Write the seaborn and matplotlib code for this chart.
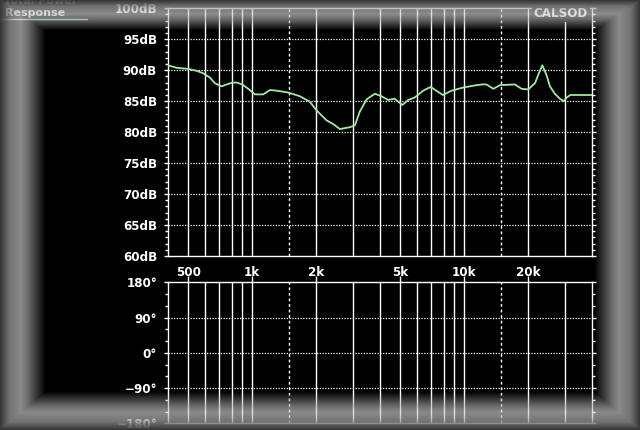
import numpy as np
import matplotlib
matplotlib.use("Agg")
import matplotlib.pyplot as plt
from matplotlib.ticker import FixedLocator, MultipleLocator, NullFormatter, NullLocator
import seaborn as sns

# valores (resposta de potência)
freq_hz = [400, 440, 500, 548, 588, 633, 667, 718, 758, 806, 847, 898, 959, 1030,
           1128, 1213, 1305, 1480, 1680, 1874, 2015, 2246, 2414, 2593, 2890, 3055,
           3218, 3468, 3793, 4077, 4380, 4700, 4980, 5120, 5450, 5850, 6410, 6952,
           7950, 8730, 9900, 11040, 12120, 12760, 13750, 14800, 17380, 18660, 20080,
           21600, 22530, 23400, 24500, 25400, 26800, 28300, 29500, 30300, 31670, 40000]
nivel_db = [90.8, 90.4, 90.2, 89.9, 89.5, 88.8, 87.9, 87.4, 87.7, 88.0, 88.0, 87.7, 87.0, 86.1,
            86.1, 86.8, 86.7, 86.4, 85.8, 84.9, 83.5, 81.9, 81.3, 80.5, 80.8, 81.1,
            83.3, 85.3, 86.2, 85.8, 85.2, 85.4, 84.7, 84.4, 85.2, 85.6, 86.7, 87.3,
            86.0, 86.7, 87.2, 87.5, 87.7, 87.7, 87.0, 87.6, 87.7, 87.0, 86.9,
            87.9, 89.5, 90.8, 89.2, 87.4, 86.2, 85.4, 85.0, 85.5, 86.0, 86.0]

ticks_freq = [500, 1000, 2000, 5000, 10000, 20000]
rotulos_freq = ["500", "1k", "2k", "5k", "10k", "20k"]
grade_solida = [500, 600, 700, 800, 900, 1000, 2000, 3000, 4000, 5000, 6000,
                7000, 8000, 9000, 10000, 20000, 30000]
grade_pontilhada = [1500, 15000]

ticks_db = [60, 65, 70, 75, 80, 85, 90, 95, 100]
rotulos_db = [f"{v}dB" for v in ticks_db]
ticks_fase = [-180, -90, 0, 90, 180]
rotulos_fase = ["\u2212180\u00b0", "\u221290\u00b0", "0\u00b0", "90\u00b0", "180\u00b0"]

sns.set_theme(style="dark", rc={
    "figure.facecolor": "black", "axes.facecolor": "black",
    "axes.edgecolor": "white", "xtick.color": "white", "ytick.color": "white",
    "axes.linewidth": 1.0,
})
plt.rcParams["font.family"] = ["DejaVu Sans"]
plt.rcParams["font.weight"] = "bold"

W, H = 640, 430
TAM = 8.6
fig = plt.figure(figsize=(6.4, 4.3), dpi=100)

def px(x0, y0, x1, y1):
    # converte caixa em pixels (topo-esquerda) para fração da figura
    return [x0 / W, 1 - y1 / H, (x1 - x0) / W, (y1 - y0) / H]

ax_mag = fig.add_axes(px(167.8, 8.3, 591.7, 256))
ax_fase = fig.add_axes(px(167.8, 282.3, 591.7, 423.3))

for ax in (ax_mag, ax_fase):
    ax.set_xscale("log")
    ax.set_xlim(400, 40000)
    ax.grid(False)
    for f in grade_solida:
        ax.axvline(f, color="white", lw=1.0, zorder=1)
    for f in grade_pontilhada:
        ax.axvline(f, color="white", lw=1.0, ls=(0, (2, 2)), zorder=1)
    ax.xaxis.set_minor_locator(NullLocator())
    ax.xaxis.set_minor_formatter(NullFormatter())
    for s in ax.spines.values():
        s.set_color("white")
        s.set_linewidth(1.0)

# painel de magnitude
sns.lineplot(x=freq_hz, y=nivel_db, ax=ax_mag, color="#a6e6a6", lw=1.3,
             estimator=None, sort=False, zorder=3)
ax_mag.set_ylim(60, 100)
ax_mag.yaxis.set_major_locator(FixedLocator(ticks_db))
ax_mag.set_yticklabels(rotulos_db)
ax_mag.yaxis.set_minor_locator(MultipleLocator(1))
for v in ticks_db[1:-1]:
    ax_mag.axhline(v, color="white", lw=0.9, ls=(0, (1, 1.2)), zorder=1)
ax_mag.xaxis.set_major_locator(FixedLocator(ticks_freq))
ax_mag.set_xticklabels(rotulos_freq)
ax_mag.tick_params(axis="x", length=0, pad=7.0, labelsize=TAM)
ax_mag.tick_params(axis="y", which="both", direction="out", left=True, right=True,
                   labelsize=TAM, pad=4.5)
ax_mag.tick_params(axis="y", which="major", length=3.2, width=1)
ax_mag.tick_params(axis="y", which="minor", length=2.5, width=1)

# painel de fase (sem curva)
ax_fase.set_ylim(-180, 180)
ax_fase.yaxis.set_major_locator(FixedLocator(ticks_fase))
ax_fase.set_yticklabels(rotulos_fase)
ax_fase.yaxis.set_minor_locator(MultipleLocator(30))
for v in ticks_fase[1:-1]:
    ax_fase.axhline(v, color="white", lw=0.9, ls=(0, (1, 1.2)), zorder=1)
ax_fase.xaxis.set_major_locator(FixedLocator(ticks_freq))
ax_fase.tick_params(axis="x", bottom=False, top=True, labelbottom=False,
                    direction="out", length=4, width=1)
ax_fase.tick_params(axis="y", which="both", direction="out", left=True, right=True,
                    labelsize=TAM, pad=4.5)
ax_fase.tick_params(axis="y", which="major", length=3.2, width=1)
ax_fase.tick_params(axis="y", which="minor", length=2.5, width=1)

for ax in (ax_mag, ax_fase):
    ax.set_xlabel("")
    ax.set_ylabel("")

# textos do cabeçalho (a primeira linha fica cortada pela borda, como no original)
fig.text(4 / W, 1 - 0.5 / H, "Total Power", color="#c8dcc8", fontsize=8,
         fontweight="bold", va="center", ha="left")
fig.text(5 / W, 1 - 13 / H, "Response", color="#d6ecd6", fontsize=8,
         fontweight="bold", va="center", ha="left")
fig.add_artist(plt.Line2D([0, 87 / W], [1 - 18.5 / H] * 2, color="#a6e6a6", lw=1.0))
fig.text(588 / W, 1 - 13.5 / H, "CALSOD", color="white", fontsize=TAM,
         fontweight="bold", va="center", ha="right",
         bbox=dict(facecolor="black", edgecolor="none", pad=1.5))

# moldura chanfrada semitransparente
yy, xx = np.mgrid[0:H, 0:W].astype(float)
t = np.minimum.reduce([xx / 45.0, yy / 30.0, (W - 1 - xx) / 45.0, (H - 1 - yy) / 38.0])
brilho = np.interp(t, [0, 0.2, 0.45, 0.62, 1.0], [0.22, 0.45, 0.55, 0.42, 0.0])
alfa = np.interp(t, [0, 0.15, 0.3, 0.62, 1.0], [0.95, 0.85, 0.68, 0.62, 0.0])
cor = np.clip(np.where(alfa > 0, brilho / np.maximum(alfa, 1e-6), 0), 0, 1)
rgba = np.dstack([cor, cor, cor, alfa])
ax_moldura = fig.add_axes([0, 0, 1, 1], zorder=10)
ax_moldura.imshow(rgba, aspect="auto", interpolation="nearest", extent=[0, W, H, 0])
ax_moldura.set_xlim(0, W)
ax_moldura.set_ylim(H, 0)
ax_moldura.axis("off")
ax_moldura.patch.set_alpha(0)

fig.savefig("out.png", dpi=100, facecolor="black")
